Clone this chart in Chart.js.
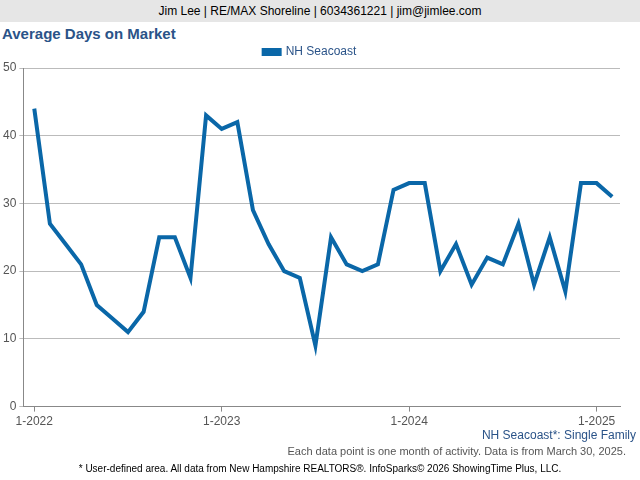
<!DOCTYPE html>
<html><head><script src="https://cdn.jsdelivr.net/npm/chart.js@4"></script>
<style>body{margin:0;width:640px;height:480px;overflow:hidden;font-family:Arial,"Liberation Sans",sans-serif;background:#fff}
#hdr{position:absolute;left:0;top:0;width:640px;height:22px;background:#e6e6e6;text-align:center;font-size:12px;line-height:22px;color:#000}
#ttl{position:absolute;left:2px;top:25px;font-size:15px;font-weight:bold;color:#2a5388}
.ft{position:absolute;font-size:11px;color:#555}
#wrap{position:absolute;left:0;top:36px;width:640px;height:396px}</style></head><body>
<div id="hdr">Jim Lee | RE/MAX Shoreline | 6034361221 | jim@jimlee.com</div>
<div id="ttl">Average Days on Market</div>
<div id="wrap"><canvas id="c"></canvas></div>
<div class="ft" style="right:4px;top:428px;font-size:12px;color:#2a5388">NH Seacoast*: Single Family</div>
<div class="ft" style="right:14px;top:445px">Each data point is one month of activity. Data is from March 30, 2025.</div>
<div class="ft" style="left:0;width:640px;text-align:center;top:463px;font-size:10px;color:#000">* User-defined area. All data from New Hampshire REALTORS®. InfoSparks© 2026 ShowingTime Plus, LLC.</div>
<script>
const months=["1-2022","2-2022","3-2022","4-2022","5-2022","6-2022","7-2022","8-2022","9-2022","10-2022","11-2022","12-2022","1-2023","2-2023","3-2023","4-2023","5-2023","6-2023","7-2023","8-2023","9-2023","10-2023","11-2023","12-2023","1-2024","2-2024","3-2024","4-2024","5-2024","6-2024","7-2024","8-2024","9-2024","10-2024","11-2024","12-2024","1-2025","2-2025"];
const values=[44,27,24,21,15,13,11,14,25,25,19,43,41,42,29,24,20,19,9,25,21,20,21,32,33,33,20,24,18,22,21,27,18,25,17,33,33,31];
const tickIdx=[0,12,24,36];
new Chart(document.getElementById('c'),{type:'line',
data:{datasets:[{label:'NH Seacoast',data:values.map((v,i)=>({x:i,y:v})),borderColor:'#0a67a8',backgroundColor:'#0a67a8',borderWidth:4,pointRadius:0,tension:0}]},
options:{responsive:true,maintainAspectRatio:false,animation:false,
layout:{padding:{left:0,right:20,top:0,bottom:0}},
plugins:{legend:{labels:{boxWidth:16,boxHeight:4,color:'#2a5388',font:{size:12,family:'Arial'}}},tooltip:{enabled:false}},
scales:{x:{type:'linear',min:-0.7,max:37.5,afterBuildTicks:a=>{a.ticks=tickIdx.map(v=>({value:v}))},
ticks:{callback:v=>months[v],color:'#555',font:{size:12,family:'Arial'},maxRotation:0},
grid:{display:true,drawOnChartArea:false,tickLength:5,color:'#888'},border:{color:'#888'}},
y:{min:0,max:50,ticks:{stepSize:10,color:'#555',font:{size:12,family:'Arial'}},grid:{color:'#bbb',tickLength:4},border:{color:'#888'}}}}});
</script></body></html>
